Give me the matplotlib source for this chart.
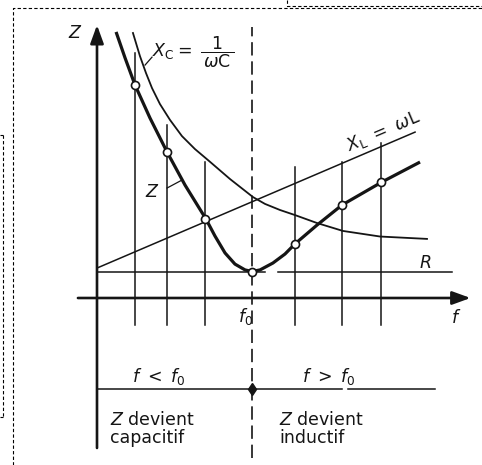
import matplotlib.pyplot as plt
from matplotlib.lines import Line2D

plt.rcParams['font.family'] = 'DejaVu Sans'
plt.rcParams['mathtext.fontset'] = 'dejavusans'

# frequency in units of f0, impedance in units of R
f_grid = [0.245, 0.45, 0.70, 1.0, 1.28, 1.58, 1.83]
z_grid = [8.04, 5.51, 2.98, 1.0, 2.04, 3.51, 4.38]
grid_top = [9.25, 6.53, 5.13, 10.23, 4.94, 5.13, 5.85]

# total impedance Z
f_z = [0.123, 0.181, 0.245, 0.342, 0.452, 0.568, 0.703, 0.761, 0.826, 0.890,
       0.955, 1.0, 1.052, 1.135, 1.213, 1.277, 1.419, 1.581, 1.839, 2.084]
z_z = [10.04, 9.06, 8.04, 6.79, 5.51, 4.26, 2.98, 2.34, 1.70, 1.28,
       1.06, 1.0, 1.06, 1.32, 1.66, 2.04, 2.75, 3.51, 4.38, 5.13]

# capacitive reactance Xc
f_xc = [0.232, 0.277, 0.316, 0.355, 0.406, 0.471, 0.548, 0.632, 0.723, 0.858,
        1.006, 1.084, 1.181, 1.277, 1.419, 1.587, 1.826, 2.129]
z_xc = [10.00, 9.13, 8.49, 7.92, 7.32, 6.72, 6.11, 5.62, 5.17, 4.49,
        3.81, 3.55, 3.32, 3.13, 2.83, 2.53, 2.32, 2.23]

# inductive reactance XL
f_xl = [0.0, 2.052]
z_xl = [1.13, 6.26]

R = 1.0

W, H = 482, 465
ox, oy = 97, 298          # origin in pixels
sx, sy = 155, 26.5        # pixels per unit

fig = plt.figure(figsize=(W / 100, H / 100), dpi=100)
ax = fig.add_axes([0, 0, 1, 1])
ax.set_xlim(-ox / sx, (W - ox) / sx)
ax.set_ylim(-(H - oy) / sy, oy / sy)
ax.axis('off')

ink = '#151515'
thin = 1.1

# vertical construction lines
for f, top in zip(f_grid, grid_top):
    if f == 1.0:
        continue
    ax.plot([f, f], [-1.02, top], color=ink, lw=thin)

# f0 dashed line
ax.plot([1.0, 1.0], [-6.04, 10.23], color=ink, lw=1.2, dashes=(8, 3.5))

# R
ax.plot([0, 1.084], [R, R], color=ink, lw=thin)
ax.plot([1.168, 2.29], [R, R], color=ink, lw=thin)

ax.plot(f_xl, z_xl, color=ink, lw=thin)
ax.plot(f_xc, z_xc, color=ink, lw=1.3, solid_joinstyle='round')
ax.plot(f_z, z_z, color=ink, lw=2.3, solid_capstyle='butt', solid_joinstyle='round')
ax.plot(f_grid, z_grid, 'o', ms=5.8, mfc='white', mec=ink, mew=1.2, zorder=5)

# axes with arrows
arr = dict(arrowstyle='-|>,head_length=1.1,head_width=0.4', lw=1.9,
           color=ink, shrinkA=0, shrinkB=0, mutation_scale=10)
ax.annotate('', xy=(0, 10.3), xytext=(0, -5.66), arrowprops=arr)
ax.annotate('', xy=(2.41, 0), xytext=(-0.123, 0), arrowprops=arr)

# lower band
ax.plot([0, 1.58], [-3.43, -3.43], color=ink, lw=thin)
ax.plot([1.62, 2.18], [-3.43, -3.43], color=ink, lw=thin)
ax.plot([1.0], [-3.43], 'd', ms=6, color=ink)

# leaders
ax.plot([0.31, 0.355], [8.79, 9.09], color=ink, lw=0.9)
ax.plot([0.452, 0.548], [4.15, 4.45], color=ink, lw=0.9)

fs = 12.5
ax.text(-0.142, 10.0, '$Z$', fontsize=fs, ha='center', va='center', color=ink)
ax.text(0.355, 9.28, r'$X_{\mathrm{C}} =\ \dfrac{1}{\,\omega\mathrm{C}\,}$',
        fontsize=fs, ha='left', va='center', color=ink)
ax.text(1.845, 6.30, r'$X_{\mathrm{L}}\ =\ \omega\mathrm{L}$', fontsize=fs,
        ha='center', va='center', rotation=23, rotation_mode='anchor', color=ink)
ax.text(0.355, 4.0, '$Z$', fontsize=fs, ha='center', va='center', color=ink)
ax.text(2.116, 1.32, '$R$', fontsize=fs, ha='center', va='center', color=ink)
ax.text(0.955, -0.68, '$f_0$', fontsize=fs, ha='center', va='center', color=ink)
ax.text(2.316, -0.75, '$f$', fontsize=fs, ha='center', va='center', color=ink)
ax.text(0.40, -2.98, r'$f\ <\ f_0$', fontsize=fs, ha='center', va='center', color=ink)
ax.text(1.497, -2.98, r'$f\ >\ f_0$', fontsize=fs, ha='center', va='center', color=ink)
ax.text(0.084, -4.94, '$Z$ devient\ncapacitif', fontsize=fs, ha='left',
        va='center', color=ink, linespacing=1.05)
ax.text(1.174, -4.94, '$Z$ devient\ninductif', fontsize=fs, ha='left',
        va='center', color=ink, linespacing=1.05)


# dashed page frames
def frame(xs, ys, **kw):
    fig.add_artist(Line2D([x / W for x in xs], [1 - y / H for y in ys],
                          transform=fig.transFigure, color='black', lw=0.8,
                          linestyle=(0, (3, 2)), **kw))


frame([13, 13, W], [H, 8, 8])
frame([287, 287, W], [0, 6, 6])
frame([3, 3], [135, 417])
frame([0, 3], [135, 135])
frame([0, 3], [417, 417])

fig.savefig('out.png', dpi=100, facecolor='white')
